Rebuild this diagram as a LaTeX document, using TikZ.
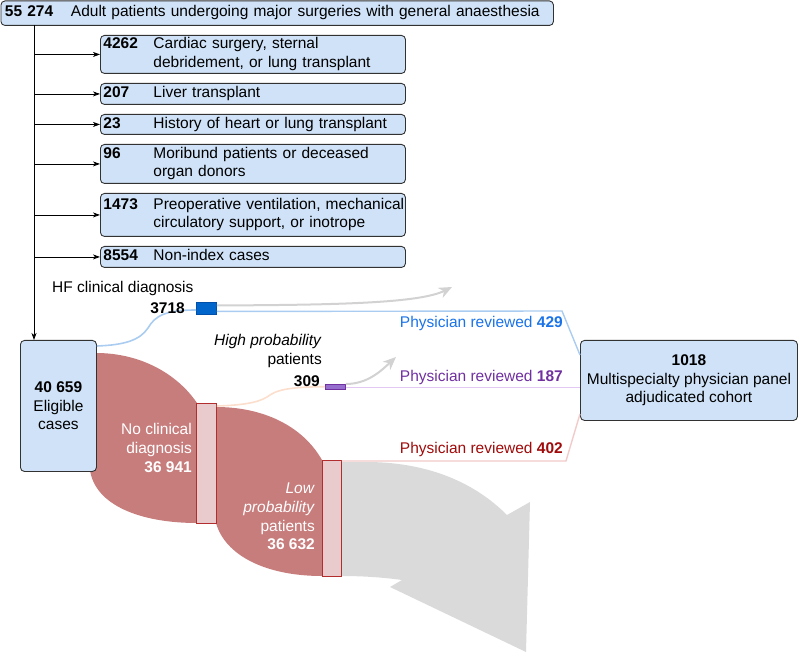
\documentclass[tikz,border=0pt]{standalone}
\usepackage{fontspec}
\setmainfont{Liberation Sans}
\usetikzlibrary{arrows.meta}
\definecolor{boxfill}{RGB}{207,226,247}
\definecolor{boxline}{RGB}{50,50,50}
\definecolor{flowred}{RGB}{200,125,125}
\definecolor{rectpink}{RGB}{233,203,205}
\definecolor{rectred}{RGB}{178,45,45}
\definecolor{hfblue}{RGB}{0,102,204}
\definecolor{hfborder}{RGB}{0,80,170}
\definecolor{hppurple}{RGB}{150,110,205}
\definecolor{hpborder}{RGB}{112,48,160}
\definecolor{lightblue}{RGB}{170,204,240}
\definecolor{lightpurple}{RGB}{226,200,242}
\definecolor{lightred}{RGB}{242,202,202}
\definecolor{lightpeach}{RGB}{252,222,204}
\definecolor{graybig}{RGB}{218,218,218}
\definecolor{graythin}{RGB}{210,210,210}
\definecolor{txtblue}{RGB}{26,115,232}
\definecolor{txtpurple}{RGB}{112,48,160}
\definecolor{txtred}{RGB}{160,10,10}
\newcommand{\exrow}[3]{\begin{tabular}{@{}p{#1}@{}l@{}}\textbf{#2}&\begin{tabular}[t]{@{}l@{}}#3\end{tabular}\end{tabular}}
\begin{document}
\begin{tikzpicture}[x=1pt,y=-1pt,
  every node/.style={font=\fontsize{15.5}{18.6}\selectfont},
  bluebox/.style={draw=boxline, fill=boxfill, rounded corners=4pt, line width=0.9pt, inner sep=0pt},
  exbox/.style={bluebox, anchor=north west, inner xsep=3pt, text width=299pt, align=left},
  bar/.style={draw, line width=0.9pt, inner sep=0pt, anchor=north west},
  lbl/.style={inner sep=0pt},
  arr/.style={line width=0.8pt, -{Stealth[length=7pt,width=5pt,inset=2pt]}},
  grayarr/.style={draw=graythin, line width=2pt, -{Stealth[length=13pt,width=11pt,inset=4pt]}}
]
\path (0,0) rectangle (798,652);

% ---------- flows (behind boxes) ----------
\fill[flowred] (96,353) .. controls (142,353) and (178,375) .. (197,403)
  -- (197,523) .. controls (140,523) and (95,505) .. (90,470) -- cycle;
\fill[flowred] (216,407) .. controls (262,407) and (302,425) .. (322,460)
  -- (322,576) .. controls (265,576) and (225,555) .. (216,523) -- cycle;
\fill[graybig] (341,462) -- (370,462) .. controls (430,463) and (475,483) .. (507,515)
  -- (530,502) -- (526,652) -- (390,587) -- (402,580)
  .. controls (380,577) and (360,576) .. (341,576) -- cycle;

% ---------- boxes ----------
\node[bluebox, anchor=north west, minimum width=552.5pt, minimum height=24.5pt,
  inner xsep=4pt, text width=544.5pt, align=left] (top) at (0.5,0.5)
  {\exrow{66pt}{55 274}{Adult patients undergoing major surgeries with general anaesthesia}};

\node[exbox, minimum height=38pt] (ex1) at (100,35)
  {\exrow{50pt}{4262}{Cardiac surgery, sternal\\debridement, or lung transplant}};
\node[exbox, minimum height=21pt] (ex2) at (100,83)
  {\exrow{50pt}{207}{Liver transplant}};
\node[exbox, minimum height=20pt] (ex3) at (100,114)
  {\exrow{50pt}{23}{History of heart or lung transplant}};
\node[exbox, minimum height=39pt] (ex4) at (100,144)
  {\exrow{50pt}{96}{Moribund patients or deceased\\organ donors}};
\node[exbox, minimum height=43pt] (ex5) at (100,193)
  {\exrow{50pt}{1473}{Preoperative ventilation, mechanical\\circulatory support, or inotrope}};
\node[exbox, minimum height=21pt] (ex6) at (100,246)
  {\exrow{50pt}{8554}{Non-index cases}};

\node[bluebox, anchor=north west, minimum width=76pt, minimum height=131pt, align=center]
  (elig) at (20,340) {\textbf{40 659}\\Eligible\\cases};

\node[bluebox, anchor=north west, minimum width=217pt, minimum height=80pt, align=center]
  (cohort) at (580,340) {\textbf{1018}\\Multispecialty physician panel\\adjudicated cohort};

% ---------- trunk and exclusion arrows ----------
\coordinate (trunk) at (34,25);
\draw[arr] (trunk) -- (trunk |- elig.north);
\foreach \b in {ex1,ex2,ex3,ex4,ex5,ex6}
  \draw[arr] (trunk |- \b.west) -- (\b.west);

% ---------- bars ----------
\node[bar, draw=hfborder, fill=hfblue, minimum width=20pt, minimum height=12pt] (hf) at (196,302) {};
\node[bar, draw=hpborder, fill=hppurple, minimum width=20pt, minimum height=4.5pt] (hp) at (325,384) {};
\node[bar, draw=rectred, fill=rectpink, minimum width=20pt, minimum height=120pt] (noclin) at (196,403) {};
\node[bar, draw=rectred, fill=rectpink, minimum width=19pt, minimum height=116pt] (lowp) at (322,460) {};

% ---------- thin connectors ----------
\coordinate (hfin) at (196,310);
\draw[lightblue, line width=1.6pt] (elig.east |- 0,346) .. controls (125,345) and (140,340) .. (148,328)
  .. controls (155,316) and (165,310) .. (hfin);
\draw[lightpeach, line width=1.6pt] (noclin.north east) ++(0,3) .. controls (250,405) and (262,401) .. (270,395)
  .. controls (280,388) and (300,387) .. (hp.west);
\draw[grayarr] ([yshift=3pt]hf.east) .. controls (340,305) and (420,303) .. (452,287);
\draw[grayarr] (hp.north east) .. controls (368,384) and (382,370) .. (396,357);

\coordinate (bend1) at (562,311);
\coordinate (bend3) at (566,461);
\draw[lightblue, line width=1.4pt] ([yshift=-3pt]hf.east) -- (bend1) -- ([yshift=-15pt]cohort.north west);
\draw[lightpurple, line width=1.4pt] ([yshift=-1pt]hp.east) -- ([yshift=-1pt]hp.east -| cohort.west);
\draw[lightred, line width=1.4pt] ([yshift=-1pt]lowp.north east) -- (bend3) -- ([yshift=7pt]cohort.south west);

% ---------- labels ----------
\node[lbl, anchor=west] (hflbl) at (52,288) {HF clinical diagnosis};
\node[lbl, anchor=east] (hfn) at (185,308) {\textbf{3718}};
\node[lbl, anchor=east, align=right] (hplbl) at (322,351) {\textit{High probability}\\patients};
\node[lbl, anchor=east] (hpn) at (320,381) {\textbf{309}};
\node[lbl, anchor=east, text=txtblue] (pr1) at (563,323) {Physician reviewed \textbf{429}};
\node[lbl, anchor=east, text=txtpurple] (pr2) at (563,377) {Physician reviewed \textbf{187}};
\node[lbl, anchor=east, text=txtred] (pr3) at (563,449) {Physician reviewed \textbf{402}};
\node[lbl, anchor=east, align=right, text=white] (nclbl) at (192,448) {No clinical\\diagnosis\\\textbf{36 941}};
\node[lbl, anchor=east, align=right, text=white] (lplbl) at (315,516.5) {\textit{Low}\\\textit{probability}\\patients\\\textbf{36 632}};
\end{tikzpicture}
\end{document}
